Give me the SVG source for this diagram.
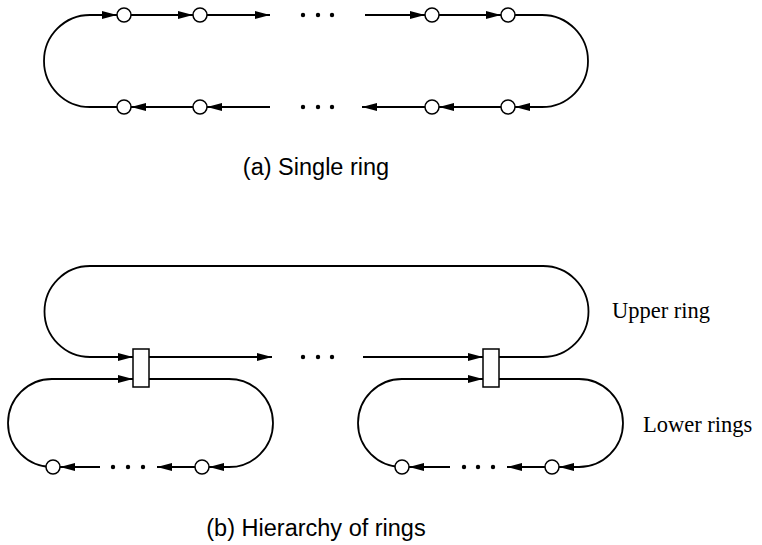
<svg xmlns="http://www.w3.org/2000/svg" width="762" height="545" viewBox="0 0 762 545">
<style>
.ln{fill:none;stroke:#000;stroke-width:1.8}
.ar{marker-end:url(#ah)}
.nd{fill:#fff;stroke:#000;stroke-width:1.5}
.dot{fill:#000}
.cap{font-family:"Liberation Sans",Arial,sans-serif;font-size:23.5px;fill:#000;text-anchor:middle}
.lbl{font-family:"Liberation Serif","Times New Roman",serif;font-size:22.5px;fill:#000}
</style>
<defs>
<marker id="ah" markerUnits="userSpaceOnUse" markerWidth="15" markerHeight="8" refX="15" refY="4" orient="auto">
<path d="M0,0 L15,4 L0,8 z" fill="#000"/>
</marker>
</defs>
<rect width="762" height="545" fill="#fff"/>
<g id="connectors">
<!-- (a) single ring -->
<path class="ln ar" d="M117,107 L90,107 A46,46 0 0 1 90,15 L117,15"/>
<path class="ln ar" d="M131,15 L193,15"/>
<path class="ln ar" d="M207,15 L270,15"/>
<path class="ln ar" d="M365,15 L425,15"/>
<path class="ln ar" d="M439,15 L501,15"/>
<path class="ln ar" d="M515,15 L542,15 A46,46 0 0 1 542,107 L515,107"/>
<path class="ln ar" d="M501,107 L439,107"/>
<path class="ln ar" d="M425,107 L362,107"/>
<path class="ln ar" d="M270,107 L207,107"/>
<path class="ln ar" d="M193,107 L131,107"/>
<!-- (b) upper ring -->
<path class="ln ar" d="M149,357 L272,357"/>
<path class="ln ar" d="M363,357 L483,357"/>
<path class="ln ar" d="M499,357 L543,357 A45.5,45.5 0 0 0 543,266 L90,266 A45.5,45.5 0 0 0 90,357 L133,357"/>
<!-- (b) lower left ring -->
<path class="ln ar" d="M149,379 L229,379 A44,44 0 0 1 229,467 L209,467"/>
<path class="ln ar" d="M195,467 L157,467"/>
<path class="ln ar" d="M100,467 L60,467"/>
<path class="ln ar" d="M46,467 L52,467 A44,44 0 0 1 52,379 L133,379"/>
<!-- (b) lower right ring -->
<path class="ln ar" d="M499,379 L579,379 A44,44 0 0 1 579,467 L559,467"/>
<path class="ln ar" d="M545,467 L507,467"/>
<path class="ln ar" d="M450,467 L409,467"/>
<path class="ln ar" d="M395,467 L402,467 A44,44 0 0 1 402,379 L483,379"/>
</g>
<g id="dots">
<circle class="dot" cx="303" cy="15" r="2.2"/><circle class="dot" cx="318" cy="15" r="2.2"/><circle class="dot" cx="332" cy="15" r="2.2"/>
<circle class="dot" cx="303" cy="107" r="2.2"/><circle class="dot" cx="318" cy="107" r="2.2"/><circle class="dot" cx="332" cy="107" r="2.2"/>
<circle class="dot" cx="303" cy="357" r="2.2"/><circle class="dot" cx="318" cy="357" r="2.2"/><circle class="dot" cx="332" cy="357" r="2.2"/>
<circle class="dot" cx="113" cy="467" r="2.2"/><circle class="dot" cx="128" cy="467" r="2.2"/><circle class="dot" cx="143" cy="467" r="2.2"/>
<circle class="dot" cx="464" cy="467" r="2.2"/><circle class="dot" cx="478" cy="467" r="2.2"/><circle class="dot" cx="493" cy="467" r="2.2"/>
</g>
<g id="a-top-1"><circle class="nd" cx="124" cy="15" r="7"/></g>
<g id="a-top-2"><circle class="nd" cx="200" cy="15" r="7"/></g>
<g id="a-top-3"><circle class="nd" cx="432" cy="15" r="7"/></g>
<g id="a-top-4"><circle class="nd" cx="508" cy="15" r="7"/></g>
<g id="a-bot-1"><circle class="nd" cx="124" cy="107" r="7"/></g>
<g id="a-bot-2"><circle class="nd" cx="200" cy="107" r="7"/></g>
<g id="a-bot-3"><circle class="nd" cx="432" cy="107" r="7"/></g>
<g id="a-bot-4"><circle class="nd" cx="508" cy="107" r="7"/></g>
<g id="b-switch-1"><rect class="nd" x="133" y="349" width="16" height="38"/></g>
<g id="b-switch-2"><rect class="nd" x="483" y="349" width="16" height="38"/></g>
<g id="b-left-1"><circle class="nd" cx="53" cy="467" r="7"/></g>
<g id="b-left-2"><circle class="nd" cx="202" cy="467" r="7"/></g>
<g id="b-right-1"><circle class="nd" cx="402" cy="467" r="7"/></g>
<g id="b-right-2"><circle class="nd" cx="552" cy="467" r="7"/></g>
<g id="labels">
<text class="cap" x="316" y="175">(a) Single ring</text>
<text class="cap" x="316" y="536">(b) Hierarchy of rings</text>
<text class="lbl" x="612" y="318">Upper ring</text>
<text class="lbl" x="643" y="432">Lower rings</text>
</g>
</svg>
